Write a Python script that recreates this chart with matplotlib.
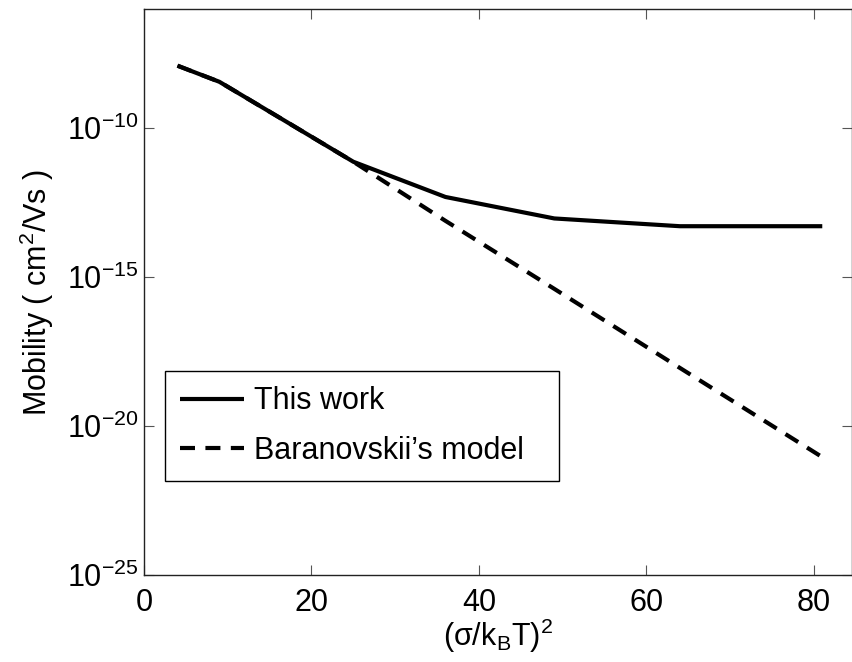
import matplotlib
matplotlib.use("Agg")
import matplotlib.pyplot as plt
from matplotlib.ticker import FixedLocator, FixedFormatter

plt.rcParams['font.family'] = ['Liberation Sans', 'DejaVu Sans']
plt.rcParams['mathtext.fontset'] = 'custom'
plt.rcParams['mathtext.rm'] = 'Liberation Sans'
plt.rcParams['mathtext.it'] = 'Liberation Sans'
plt.rcParams['mathtext.sf'] = 'Liberation Sans'

# (sigma/kT)^2 values and log10 mobility (cm^2/Vs)
disorder = [4, 9, 16, 25, 36, 49, 64, 81]
log_mu_this_work = [-7.92, -8.46, -9.63, -11.14, -12.32, -13.04, -13.30, -13.30]
log_mu_baranovskii = [-7.92, -8.46, -9.63, -11.14, -13.12, -15.40, -18.05, -21.04]

ytick_exp = [-25, -20, -15, -10]
xtick_vals = [0, 20, 40, 60, 80]

mu_this_work = [10.0 ** v for v in log_mu_this_work]
mu_baranovskii = [10.0 ** v for v in log_mu_baranovskii]

FS = 22

fig = plt.figure(figsize=(8.53, 6.62), dpi=100)
ax = fig.add_axes([144 / 853, 1 - 575.3 / 662, 708 / 853, (575.3 - 9) / 662])

ax.plot(disorder, mu_this_work, color='black', lw=3.0, solid_joinstyle='round',
        solid_capstyle='butt', label='This work')
ax.plot(disorder, mu_baranovskii, color='black', lw=3.0, ls=(0, (3.6, 2.5)),
        dash_capstyle='butt', label='Baranovskii\u2019s model')

ax.set_yscale('log')
ax.set_xlim(0, 84.55)
ax.set_ylim(1e-25, 10 ** -6.02)

ax.xaxis.set_major_locator(FixedLocator(xtick_vals))
ax.yaxis.set_major_locator(FixedLocator([10.0 ** e for e in ytick_exp]))
ax.yaxis.set_major_formatter(FixedFormatter([r'$10^{%d}$' % e for e in ytick_exp]))
ax.yaxis.set_minor_locator(FixedLocator([]))

ax.tick_params(which='both', direction='in', top=True, right=True,
               length=7, width=0.8, color='#555555', labelsize=FS)
ax.tick_params(axis='x', pad=9)
ax.tick_params(axis='y', pad=4)
for sp in ax.spines.values():
    sp.set_linewidth(1.0)
    sp.set_color('#222222')

ax.set_xlabel(r'($\sigma$/k$_{\rm B}$T)$^2$', fontsize=FS, labelpad=-1)
ax.set_ylabel(r'Mobility ( cm$^{2}$/Vs )', fontsize=FS, labelpad=8)

leg = ax.legend(loc='upper left',
                bbox_to_anchor=(165 / 853, 1 - 478 / 662, 394 / 853, 107 / 662),
                bbox_transform=fig.transFigure, mode='expand', borderaxespad=0,
                fontsize=FS, handlelength=2.1, handletextpad=0.3, borderpad=0.5,
                labelspacing=0.65, fancybox=False, framealpha=1)
leg.get_frame().set_edgecolor('black')
leg.get_frame().set_linewidth(1.0)

fig.savefig('out.png', dpi=100)
